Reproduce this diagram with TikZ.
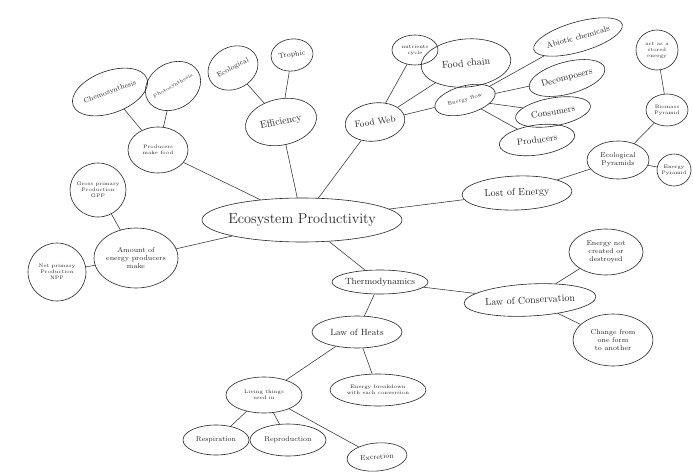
\documentclass[tikz,border=0pt]{standalone}
\usetikzlibrary{shapes.geometric}
\begin{document}
\begin{tikzpicture}[x=1pt,y=-1pt,
  bub/.style={draw=black!85, line width=0.6pt, ellipse, inner sep=0pt, align=center, text=black!85},
  lnk/.style={draw=black!80, line width=0.55pt}]
\useasboundingbox[fill=white] (0,0) rectangle (693,473);
\node[bub, minimum width=200pt, minimum height=44pt, inner xsep=-6pt, font=\Large] (c) at (302,220) {Ecosystem Productivity};
% left upper
\node[bub, minimum width=60pt, minimum height=46pt, inner xsep=-3pt, font=\tiny] (pmf) at (158,150) {Producers\\make food};
\node[bub, minimum width=76pt, minimum height=42pt, rotate=20, font=\scriptsize] (chem) at (110,92) {Chemosynthesis};
\node[bub, minimum width=58pt, minimum height=46pt, inner xsep=-3pt, rotate=30, font=\tiny] (photo) at (173,86) {Photosynthesis};
\node[bub, minimum width=72pt, minimum height=46pt, rotate=12, font=\normalsize] (eff) at (281,122) {Efficiency};
\node[bub, minimum width=52pt, minimum height=42pt, rotate=28, font=\scriptsize] (ecol) at (233,68) {Ecological};
\node[bub, minimum width=42pt, minimum height=32pt, rotate=8, font=\scriptsize] (tro) at (292,55) {Trophic};
% food web
\node[bub, minimum width=60pt, minimum height=38pt, rotate=8, font=\small] (fw) at (375,122) {Food Web};
\node[bub, minimum width=46pt, minimum height=30pt, inner xsep=-2pt, font=\tiny] (nut) at (415,50) {nutrients\\cycle};
\node[bub, minimum width=90pt, minimum height=48pt, rotate=5, font=\normalsize] (fc) at (466,63) {Food chain};
\node[bub, minimum width=62pt, minimum height=28pt, rotate=15, font=\tiny] (ef) at (465,100) {Energy flow};
\node[bub, minimum width=92pt, minimum height=30pt, inner xsep=-3pt, rotate=16, font=\footnotesize] (abi) at (578,37) {Abiotic chemicals};
\node[bub, minimum width=78pt, minimum height=32pt, rotate=15, font=\small] (dec) at (567,78) {Decomposers};
\node[bub, minimum width=76pt, minimum height=28pt, rotate=10, font=\small] (con) at (553,112) {Consumers};
\node[bub, minimum width=76pt, minimum height=30pt, rotate=8, font=\small] (pro) at (537,140) {Producers};
% pyramids
\node[bub, minimum width=42pt, minimum height=40pt, inner xsep=-2pt, font=\tiny] (act) at (657,50) {act as a\\stored\\energy};
\node[bub, minimum width=42pt, minimum height=32pt, inner xsep=-2pt, font=\tiny] (bio) at (667,110) {Biomass\\Pyramid};
\node[bub, minimum width=62pt, minimum height=38pt, inner xsep=-2pt, font=\scriptsize] (ep) at (618,160) {Ecological\\Pyramids};
\node[bub, minimum width=34pt, minimum height=32pt, inner xsep=-3pt, font=\tiny] (enp) at (674,170) {Energy\\Pyramid};
\node[bub, minimum width=110pt, minimum height=34pt, rotate=2, font=\normalsize] (lost) at (517,193) {Lost of Energy};
% left lower
\node[bub, minimum width=56pt, minimum height=54pt, inner xsep=-3pt, font=\tiny] (gpp) at (98,190) {Gross primary\\Production\\GPP};
\node[bub, minimum width=84pt, minimum height=60pt, inner xsep=-4pt, font=\scriptsize] (amt) at (136,258) {Amount of\\energy producers\\make};
\node[bub, minimum width=58pt, minimum height=58pt, inner xsep=-3pt, font=\tiny] (npp) at (57,272) {Net primary\\Production\\NPP};
% thermo
\node[bub, minimum width=96pt, minimum height=24pt, inner xsep=-3pt, font=\small] (th) at (380,282) {Thermodynamics};
\node[bub, minimum width=132pt, minimum height=32pt, inner xsep=-4pt, rotate=3, font=\normalsize] (loc) at (530,300) {Law of Conservation};
\node[bub, minimum width=74pt, minimum height=46pt, inner xsep=-3pt, font=\scriptsize] (enc) at (606,252) {Energy not\\created or\\destroyed};
\node[bub, minimum width=80pt, minimum height=52pt, inner xsep=-3pt, font=\scriptsize] (chg) at (613,340) {Change from\\one form\\to another};
\node[bub, minimum width=90pt, minimum height=32pt, font=\small] (loh) at (357,332) {Law of Heats};
\node[bub, minimum width=96pt, minimum height=32pt, inner xsep=-3pt, font=\tiny] (ebd) at (378,390) {Energy breakdown\\with each conversion};
\node[bub, minimum width=76pt, minimum height=36pt, font=\tiny] (liv) at (264,395) {Living things\\used in};
\node[bub, minimum width=66pt, minimum height=30pt, font=\scriptsize] (res) at (216,440) {Respiration};
\node[bub, minimum width=76pt, minimum height=32pt, font=\scriptsize] (rep) at (288,440) {Reproduction};
\node[bub, minimum width=60pt, minimum height=28pt, rotate=5, font=\scriptsize] (exc) at (377,457) {Excretion};
% links
\draw[lnk] (c) -- (pmf);
\draw[lnk] (pmf) -- (chem);
\draw[lnk] (pmf) -- (photo);
\draw[lnk] (c) -- (eff);
\draw[lnk] (eff) -- (ecol);
\draw[lnk] (eff) -- (tro);
\draw[lnk] (c) -- (fw);
\draw[lnk] (fw) -- (nut);
\draw[lnk] (fw) -- (fc);
\draw[lnk] (fw) -- (ef);
\draw[lnk] (fc) -- (ef);
\draw[lnk] (ef) -- (abi);
\draw[lnk] (ef) -- (dec);
\draw[lnk] (ef) -- (con);
\draw[lnk] (ef) -- (pro);
\draw[lnk] (c) -- (lost);
\draw[lnk] (lost) -- (ep);
\draw[lnk] (ep) -- (bio);
\draw[lnk] (ep) -- (enp);
\draw[lnk] (bio) -- (act);
\draw[lnk] (c) -- (amt);
\draw[lnk] (amt) -- (gpp);
\draw[lnk] (amt) -- (npp);
\draw[lnk] (c) -- (th);
\draw[lnk] (th) -- (loc);
\draw[lnk] (loc) -- (enc);
\draw[lnk] (loc) -- (chg);
\draw[lnk] (th) -- (loh);
\draw[lnk] (loh) -- (ebd);
\draw[lnk] (loh) -- (liv);
\draw[lnk] (liv) -- (res);
\draw[lnk] (liv) -- (rep);
\draw[lnk] (liv) -- (exc);
\end{tikzpicture}
\end{document}
